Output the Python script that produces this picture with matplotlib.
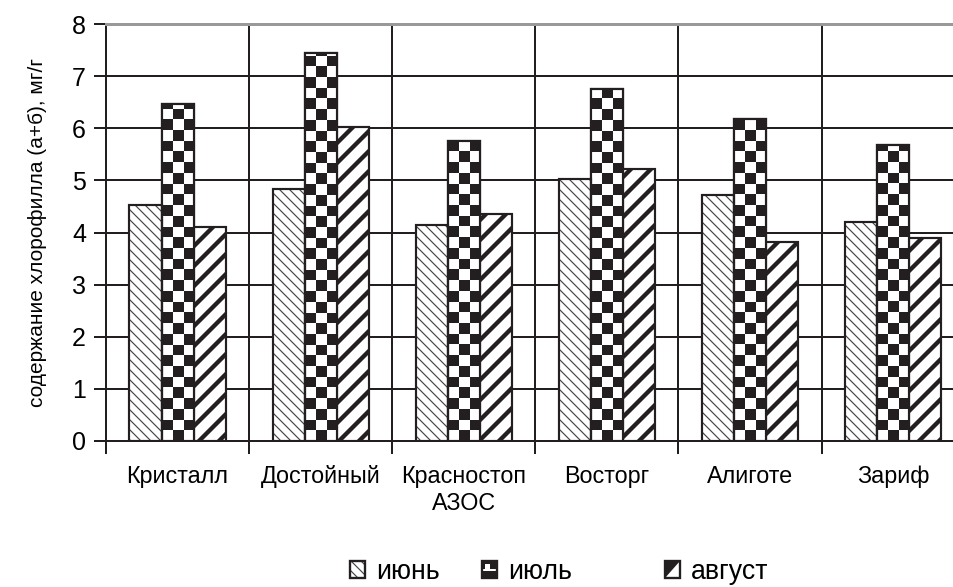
import numpy as np
import matplotlib
matplotlib.use("Agg")
import matplotlib.pyplot as plt
from matplotlib.patches import Rectangle, Polygon
from matplotlib.colors import ListedColormap
from matplotlib.legend_handler import HandlerBase

plt.rcParams['font.family'] = ['Liberation Sans', 'DejaVu Sans']

# данные
varieties = ["Кристалл", "Достойный", "Красностоп\nАЗОС", "Восторг", "Алиготе", "Зариф"]
months = ["июнь", "июль", "август"]
june = [4.53, 4.83, 4.15, 5.03, 4.72, 4.21]
july = [6.47, 7.44, 5.76, 6.75, 6.18, 5.68]
august = [4.11, 6.03, 4.36, 5.21, 3.82, 3.90]
y_label = "содержание хлорофилла (а+б), мг/г"

DPI = 120
DARK = '#231f20'
XLIM = (-0.5, 5.418)

fig = plt.figure(figsize=(953 / DPI, 587 / DPI), dpi=DPI)
ax = fig.add_axes([106 / 953, 146 / 587, 1 - 106 / 953, 417 / 587])

x = np.arange(len(varieties))
w = 0.224
ax.set_xlim(*XLIM)
ax.set_ylim(0, 8)


def set_hatch_lw(bars, lw):
    for b in bars:
        if hasattr(b, 'set_hatch_linewidth'):
            b.set_hatch_linewidth(lw)


# июнь : fines hachures
plt.rcParams['hatch.linewidth'] = 0.7
b1 = ax.bar(x - w, june, w, facecolor='white', edgecolor='#444444', linewidth=0,
            hatch='\\\\\\\\', zorder=2)
set_hatch_lw(b1, 0.7)
ax.bar(x - w, june, w, fill=False, edgecolor=DARK, linewidth=1.3, zorder=4)

# июль : damier
b2 = ax.bar(x, july, w, facecolor='white', edgecolor=DARK, linewidth=1.3, zorder=2)


def checker(rect, cell_px=10.7):
    px_x = ax.bbox.width / (XLIM[1] - XLIM[0])
    px_y = ax.bbox.height / 8
    cw, ch = cell_px / px_x, cell_px / px_y
    x0, bw, h = rect.get_x(), rect.get_width(), rect.get_height()
    nx, ny = int(np.ceil(bw / cw)), int(np.ceil(h / ch))
    arr = np.add.outer(np.arange(ny), np.arange(nx)) % 2
    im = ax.imshow(arr, cmap=ListedColormap(['white', DARK]), vmin=0, vmax=1,
                   extent=(x0, x0 + nx * cw, 0, ny * ch), origin='lower',
                   interpolation='nearest', aspect='auto', zorder=3)
    im.set_clip_path(rect)


for r in b2:
    checker(r)
for r in b2:
    ax.add_patch(Rectangle((r.get_x(), 0), r.get_width(), r.get_height(),
                           fill=False, edgecolor=DARK, linewidth=1.3, zorder=4))

# август : grosses hachures
plt.rcParams['hatch.linewidth'] = 2.6
b3 = ax.bar(x + w, august, w, facecolor='white', edgecolor=DARK, linewidth=1.3,
            hatch='//', zorder=2)
set_hatch_lw(b3, 2.6)

# axes et grille
ax.set_axisbelow(True)
ax.set_yticks(range(0, 9))
ax.tick_params(axis='y', labelsize=15, length=7, width=1.2, pad=5, color=DARK)
ax.set_xticks(np.arange(-0.5, 5.0, 1.0))
ax.set_xticklabels([])
ax.tick_params(axis='x', which='major', length=8, width=1.2, color=DARK)
ax.set_xticks(x, varieties, minor=True)
ax.tick_params(axis='x', which='minor', length=0, labelsize=14, pad=14.5)
ax.grid(True, which='major', color=DARK, linewidth=1.2)
ax.set_xlim(*XLIM)
ax.set_ylim(0, 8)
ax.spines['right'].set_visible(False)
for s in ['left', 'bottom']:
    ax.spines[s].set_color(DARK)
    ax.spines[s].set_linewidth(1.2)
ax.spines['top'].set_color('#999999')
ax.spines['top'].set_linewidth(1.8)

ax.set_ylabel(y_label, fontsize=12.5, labelpad=15)


# légende : trois entrées séparées comme dans Excel
class IconHandler(HandlerBase):
    def __init__(self, kind):
        super().__init__()
        self.kind = kind

    def create_artists(self, legend, orig, xd, yd, width, height, fontsize, trans):
        x0, y0 = -xd, -yd
        arts = []
        if self.kind == 'june':
            plt.rcParams['hatch.linewidth'] = 0.7
            arts.append(Rectangle((x0, y0), width, height, facecolor='white',
                                  edgecolor='#444444', linewidth=0, hatch='\\\\\\\\',
                                  transform=trans))
        elif self.kind == 'july':
            arts.append(Rectangle((x0, y0), width, height, facecolor=DARK,
                                  edgecolor='none', transform=trans))
            arts.append(Rectangle((x0 + width * 0.18, y0 + height * 0.5), width * 0.32,
                                  height * 0.32, facecolor='white', edgecolor='none',
                                  transform=trans))
            arts.append(Rectangle((x0, y0 + height * 0.44), width, height * 0.08,
                                  facecolor='white', edgecolor='none', transform=trans))
        else:
            arts.append(Polygon([(x0, y0), (x0, y0 + height), (x0 + width, y0 + height)],
                                closed=True, facecolor=DARK, edgecolor='none',
                                transform=trans))
        arts.append(Rectangle((x0, y0), width, height, fill=False,
                              edgecolor=DARK, linewidth=1.4, transform=trans))
        return arts


kinds = ['june', 'july', 'aug']
icon_left = [350, 482, 665]
for label, kind, xl in zip(months, kinds, icon_left):
    proxy = Rectangle((0, 0), 1, 1)
    leg = fig.legend([proxy], [label], handler_map={proxy: IconHandler(kind)},
                     loc='center left', bbox_to_anchor=(xl / 953, 1 - 572 / 587),
                     frameon=False, fontsize=16, handlelength=0.58,
                     handleheight=0.58, handletextpad=0.4, borderpad=0,
                     borderaxespad=0)

fig.savefig("out.png", dpi=DPI)
